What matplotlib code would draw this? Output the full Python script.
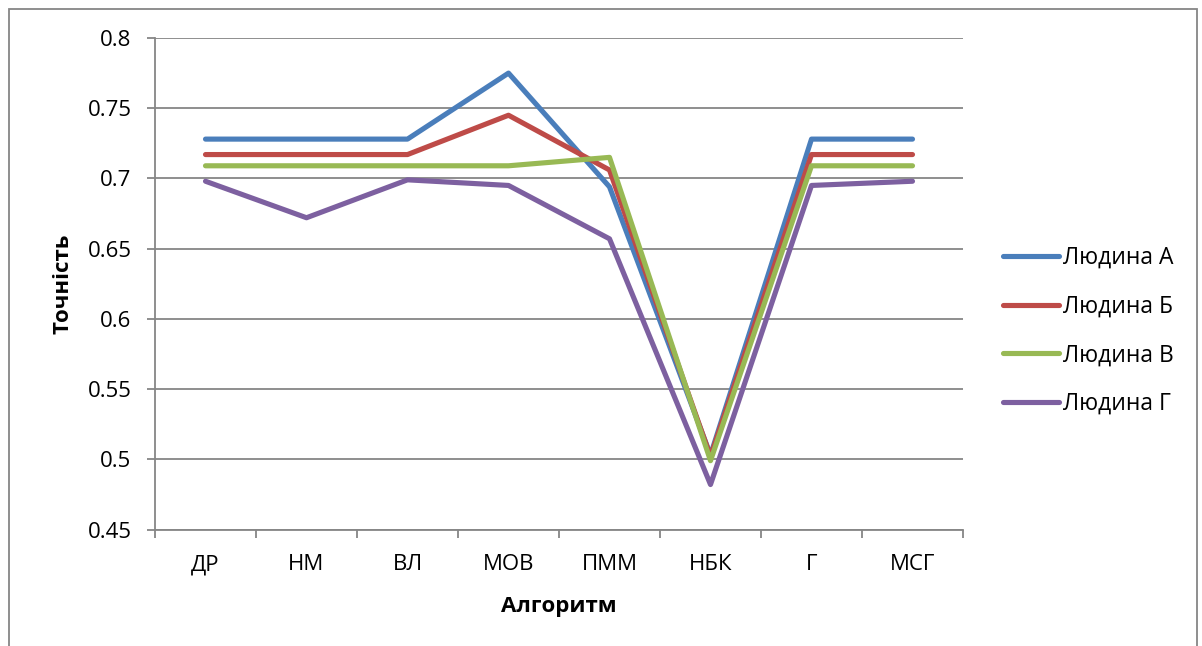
import matplotlib
matplotlib.use("Agg")
import matplotlib.pyplot as plt
from matplotlib.patches import Rectangle
from matplotlib.ticker import FixedLocator, NullFormatter

plt.rcParams['font.family'] = ['Open Sans', 'DejaVu Sans']

categories = ["ДР", "НМ", "ВЛ", "МОВ", "ПММ", "НБК", "Г", "МСГ"]
series_names = ["Людина А", "Людина Б", "Людина В", "Людина Г"]
person_a = [0.728, 0.728, 0.728, 0.775, 0.694, 0.503, 0.728, 0.728]
person_b = [0.717, 0.717, 0.717, 0.745, 0.706, 0.502, 0.717, 0.717]
person_c = [0.709, 0.709, 0.709, 0.709, 0.715, 0.499, 0.709, 0.709]
person_d = [0.698, 0.672, 0.699, 0.695, 0.657, 0.482, 0.695, 0.698]
y_ticks = [0.45, 0.5, 0.55, 0.6, 0.65, 0.7, 0.75, 0.8]

colors = ["#4A7EBB", "#BE4B48", "#98B954", "#7D60A0"]
grid_gray = "#868686"

W, H = 1202, 646
fig = plt.figure(figsize=(W / 100, H / 100), dpi=100)
fig.patch.set_facecolor("white")

# outer chart frame
fig.patches.append(Rectangle((9 / W, -0.05), (1197 - 9) / W, 1.05 - 9 / H,
                             transform=fig.transFigure, fill=False,
                             edgecolor=grid_gray, linewidth=1.3))

ax = fig.add_axes([155 / W, 1 - 529.5 / H, (963 - 155) / W, (529.5 - 38) / H])

x = list(range(len(categories)))
for vals, name, c in zip([person_a, person_b, person_c, person_d], series_names, colors):
    ax.plot(x, vals, color=c, linewidth=3.7, label=name,
            solid_joinstyle="round", solid_capstyle="round")

ax.set_xlim(-0.5, len(categories) - 0.5)
ax.set_ylim(0.45, 0.8)
ax.set_yticks(y_ticks)
ax.set_yticklabels([f"{v:g}" for v in y_ticks])
ax.yaxis.grid(True, color=grid_gray, linewidth=1.3)
ax.set_axisbelow(True)

# category boundaries carry the tick marks, labels sit at centres
ax.xaxis.set_major_locator(FixedLocator([i - 0.5 for i in range(len(categories) + 1)]))
ax.xaxis.set_major_formatter(NullFormatter())
ax.xaxis.set_minor_locator(FixedLocator(x))
ax.set_xticklabels(categories, minor=True)
ax.tick_params(axis="x", which="major", length=6, width=1.3, color=grid_gray, direction="out")
ax.tick_params(axis="x", which="minor", length=0, pad=18, labelsize=16)
ax.tick_params(axis="y", length=6, width=1.3, color=grid_gray, direction="out",
               pad=11, labelsize=16)

for s in ["top", "right"]:
    ax.spines[s].set_visible(False)
for s in ["left", "bottom"]:
    ax.spines[s].set_color(grid_gray)
    ax.spines[s].set_linewidth(1.3)

ax.set_xlabel("Алгоритм", fontsize=16, fontweight="bold", labelpad=15)
ax.set_ylabel("Точність", fontsize=16, fontweight="bold", labelpad=10)

leg = ax.legend(loc="center left", bbox_to_anchor=(1003 / W, 1 - 331 / H),
                bbox_transform=fig.transFigure, frameon=False, fontsize=16.5,
                handlelength=2.45, handletextpad=0.18, labelspacing=1.08,
                borderpad=0, borderaxespad=0)
for line in leg.get_lines():
    line.set_solid_capstyle("round")
    line.set_linewidth(3.7)

fig.savefig("out.png", dpi=100, facecolor="white")
